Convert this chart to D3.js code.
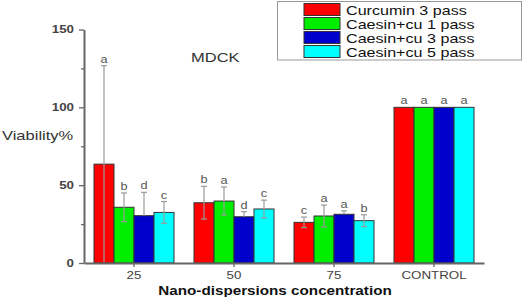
<!DOCTYPE html>
<html>
<head>
<meta charset="utf-8">
<script src="https://cdn.jsdelivr.net/npm/d3@7"></script>
<style>
  html, body { margin: 0; padding: 0; background: #fff; }
  svg { display: block; font-family: "Liberation Sans", Arial, sans-serif; }
</style>
</head>
<body>
<svg id="chart" width="524" height="297"></svg>
<script>
// concentrations on the x axis
const categories = ['25', '50', '75', 'CONTROL']
const seriesNames = ['Curcumin 3 pass', 'Caesin+cu 1 pass', 'Caesin+cu 3 pass', 'Caesin+cu 5 pass']
const seriesColors = ['#ff0000', '#00ee00', '#0000cc', '#00ffff']

// viability % per series, one value per category
const curcumin3 = [63.5, 38.7, 26.1, 100]
const caesin1 = [35.8, 39.8, 30.2, 100]
const caesin3 = [30.4, 29.7, 31.3, 100]
const caesin5 = [32.5, 34.7, 27.2, 100]

// error (+/-) per series
const errCurcumin3 = [63.2, 10.5, 3.4, 0]
const errCaesin1 = [9.2, 9, 7, 0]
const errCaesin3 = [15, 3.3, 2.2, 0]
const errCaesin5 = [7, 5.7, 3.8, 0]

// significance letters
const lblCurcumin3 = ['a', 'b', 'c', 'a']
const lblCaesin1 = ['b', 'a', 'a', 'a']
const lblCaesin3 = ['d', 'd', 'a', 'a']
const lblCaesin5 = ['c', 'c', 'b', 'a']

const yMajor = [0, 50, 100, 150]
const yMinor = [25, 75, 125]

const values = [curcumin3, caesin1, caesin3, caesin5]
const errors = [errCurcumin3, errCaesin1, errCaesin3, errCaesin5]
const letters = [lblCurcumin3, lblCaesin1, lblCaesin3, lblCaesin5]

// picture is horizontally stretched, so text gets stretched too
const SX = 1.27

const svg = d3.select('#chart')

const x = d3.scaleBand()
  .domain(categories)
  .range([84, 484])
  .paddingInner(0.2)
  .paddingOuter(0.1)

const xs = d3.scaleBand()
  .domain(d3.range(seriesNames.length))
  .range([0, x.bandwidth()])

const y = d3.scaleLinear()
  .domain([0, 150])
  .range([263, 29.5])

// flat list of bars
const bars = []
categories.forEach((c, ci) => {
  values.forEach((vals, si) => {
    bars.push({cat: c, s: si, v: vals[ci], e: errors[si][ci], lbl: letters[si][ci]})
  })
})

// bars
svg.append('g')
  .selectAll('rect')
  .data(bars)
  .join('rect')
    .attr('x', d => x(d.cat) + xs(d.s))
    .attr('y', d => y(d.v))
    .attr('width', xs.bandwidth())
    .attr('height', d => y(0) - y(d.v))
    .attr('fill', d => seriesColors[d.s])
    .attr('stroke', '#333')
    .attr('stroke-width', 1)

// error bars
const eb = svg.append('g')
  .attr('stroke', '#9a9a9a')
  .attr('stroke-width', 1.2)
  .selectAll('g')
  .data(bars.filter(d => d.e > 0))
  .join('g')
    .attr('transform', d => 'translate(' + (x(d.cat) + xs(d.s) + xs.bandwidth() / 2) + ',0)')

eb.append('line')
  .attr('y1', d => y(d.v + d.e))
  .attr('y2', d => d.s === 2 ? y(d.v) : y(Math.max(0, d.v - d.e)))
eb.append('line')
  .attr('x1', -3).attr('x2', 3)
  .attr('y1', d => y(d.v + d.e)).attr('y2', d => y(d.v + d.e))
eb.filter(d => d.s !== 2 && d.v - d.e > 0.5).append('line')
  .attr('x1', -3).attr('x2', 3)
  .attr('y1', d => y(d.v - d.e)).attr('y2', d => y(d.v - d.e))

// letters above
svg.append('g')
  .selectAll('text')
  .data(bars)
  .join('text')
    .attr('transform', d => 'translate(' + (x(d.cat) + xs(d.s) + xs.bandwidth() / 2) + ',' + (y(d.v + d.e) - 3) + ') scale(' + SX + ',1)')
    .attr('text-anchor', 'middle')
    .attr('font-size', 10)
    .attr('fill', '#555')
    .text(d => d.lbl)

// axes
const yAxis = svg.append('g')
  .attr('transform', 'translate(84,0)')
  .call(d3.axisLeft(y).tickValues(yMajor).tickSize(5).tickSizeOuter(0).tickPadding(5))
svg.append('g')
  .attr('transform', 'translate(84,0)')
  .call(d3.axisLeft(y).tickValues(yMinor).tickSize(3).tickSizeOuter(0).tickFormat(''))
  .select('.domain').remove()

const xAxis = svg.append('g')
  .attr('transform', 'translate(0,263)')
  .call(d3.axisBottom(x).tickSize(4).tickSizeOuter(0).tickPadding(5))

svg.selectAll('.domain').attr('stroke', '#666').attr('stroke-width', 2)
svg.selectAll('.tick line').attr('stroke', '#666').attr('stroke-width', 1.3)

yAxis.selectAll('text')
  .attr('font-size', 10.5)
  .attr('font-family', '"Liberation Sans", Arial, sans-serif')
  .attr('fill', '#444')
  .attr('font-weight', 'bold')
  .attr('transform', 'scale(' + SX + ',1)')
  .attr('x', -10 / SX)
xAxis.selectAll('text')
  .attr('font-size', 10.5)
  .attr('font-family', '"Liberation Sans", Arial, sans-serif')
  .attr('fill', '#444')
  .attr('transform', 'scale(' + SX + ',1)')

// titles
svg.append('text')
  .attr('transform', 'translate(2,140) scale(' + SX + ',1)')
  .attr('font-size', 13)
  .attr('fill', '#333')
  .text('Viability%')

svg.append('text')
  .attr('transform', 'translate(191,62) scale(' + SX + ',1)')
  .attr('font-size', 13)
  .attr('fill', '#333')
  .text('MDCK')

svg.append('text')
  .attr('transform', 'translate(275,294.5) scale(' + SX + ',1)')
  .attr('text-anchor', 'middle')
  .attr('font-size', 12)
  .attr('font-weight', 'bold')
  .attr('fill', '#111')
  .text('Nano-dispersions concentration')

// legend
const legend = svg.append('g')
legend.append('rect')
  .attr('x', 277.5).attr('y', 1.5)
  .attr('width', 244).attr('height', 58.5)
  .attr('fill', '#fff')
  .attr('stroke', '#999')

const items = legend.selectAll('g.item')
  .data(seriesNames)
  .join('g')
    .attr('class', 'item')
    .attr('transform', (d, i) => 'translate(304,' + (3.5 + i * 14) + ')')
items.append('rect')
  .attr('width', 36).attr('height', 12)
  .attr('fill', (d, i) => seriesColors[i])
  .attr('stroke', '#333')
items.append('text')
  .attr('transform', 'translate(42,11) scale(' + (SX - 0.03) + ',1)')
  .attr('font-size', 13)
  .attr('fill', '#111')
  .text(d => d)
</script>
</body>
</html>
